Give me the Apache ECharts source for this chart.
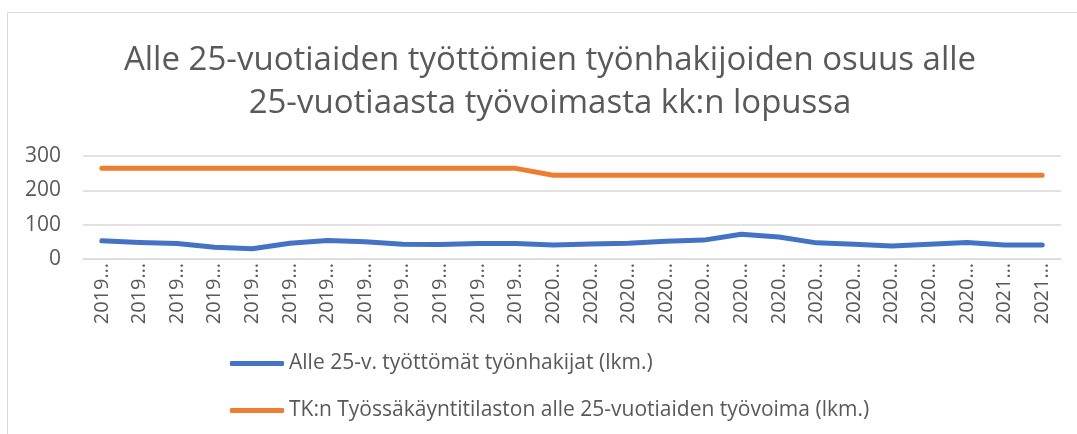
<!DOCTYPE html>
<html>
<head>
<meta charset="utf-8">
<script src="https://cdn.jsdelivr.net/npm/echarts@6/dist/echarts.min.js"></script>
<style>
  html, body { margin: 0; padding: 0; background: #ffffff; }
  #chart { width: 1077px; height: 434px; }
</style>
</head>
<body>
<div id="chart"></div>
<script>
// kuukausittaiset arvot, 2019/01 - 2021/02 (akselilla katkaistut nimet)
const months = [
  "2019…","2019…","2019…","2019…","2019…","2019…","2019…","2019…","2019…","2019…","2019…","2019…",
  "2020…","2020…","2020…","2020…","2020…","2020…","2020…","2020…","2020…","2020…","2020…","2020…",
  "2021…","2021…"
];
const tyottomat = [53, 48, 45, 34, 30, 46, 54, 50, 43, 42, 45, 45,
                   41, 44, 46, 52, 55, 72, 64, 47, 43, 38, 43, 48,
                   41, 41];
const tyovoima = [264, 264, 264, 264, 264, 264, 264, 264, 264, 264, 264, 264,
                  244, 244, 244, 244, 244, 244, 244, 244, 244, 244, 244, 244,
                  244, 244];
const yTicks = [0, 100, 200, 300];

const gray = "#595959";
const chart = echarts.init(document.getElementById('chart'));

const option = {
  backgroundColor: "#ffffff",
  animation: false,
  graphic: [{
    type: "rect",
    shape: { x: 7.5, y: 12.5, width: 1100, height: 440 },
    style: { fill: "none", stroke: "#d9d9d9", lineWidth: 1 }
  }],
  title: {
    text: "Alle 25-vuotiaiden työttömien työnhakijoiden osuus alle\n25-vuotiaasta työvoimasta kk:n lopussa",
    left: 545,
    textAlign: "center",
    top: 34,
    textStyle: {
      fontFamily: "Open Sans",
      fontWeight: "normal",
      fontSize: 33,
      lineHeight: 43,
      color: gray
    }
  },
  legend: {
    orient: "vertical",
    left: 230,
    top: 353,
    padding: 0,
    itemGap: 26,
    itemWidth: 54,
    itemHeight: 5,
    icon: "roundRect",
    textStyle: { fontFamily: "Open Sans", fontSize: 21, color: gray },
    data: ["Alle 25-v. työttömät työnhakijat (lkm.)", "TK:n Työssäkäyntitilaston alle 25-vuotiaiden työvoima (lkm.)"]
  },
  grid: { left: 83, right: 16, top: 156, bottom: 175 },
  xAxis: {
    type: "category",
    data: months,
    boundaryGap: true,
    axisLine: { lineStyle: { color: "#d9d9d9", width: 1 } },
    axisTick: { show: false },
    axisLabel: {
      rotate: 90,
      interval: 0,
      margin: 4,
      fontFamily: "Open Sans",
      fontSize: 20,
      color: gray
    }
  },
  yAxis: {
    type: "value",
    min: yTicks[0],
    max: yTicks[yTicks.length - 1],
    interval: 100,
    axisLine: { show: false },
    axisTick: { show: false },
    splitLine: { lineStyle: { color: "#d9d9d9", width: 1.5 } },
    axisLabel: { margin: 22, fontFamily: "Open Sans", fontSize: 21, color: gray }
  },
  series: [
    {
      name: "Alle 25-v. työttömät työnhakijat (lkm.)",
      type: "line",
      data: tyottomat,
      symbol: "none",
      lineStyle: { color: "#4472C4", width: 5, cap: "round", join: "round" },
      itemStyle: { color: "#4472C4" }
    },
    {
      name: "TK:n Työssäkäyntitilaston alle 25-vuotiaiden työvoima (lkm.)",
      type: "line",
      data: tyovoima,
      symbol: "none",
      lineStyle: { color: "#ED7D31", width: 5, cap: "round", join: "round" },
      itemStyle: { color: "#ED7D31" }
    }
  ]
};

chart.setOption(option);
</script>
</body>
</html>
